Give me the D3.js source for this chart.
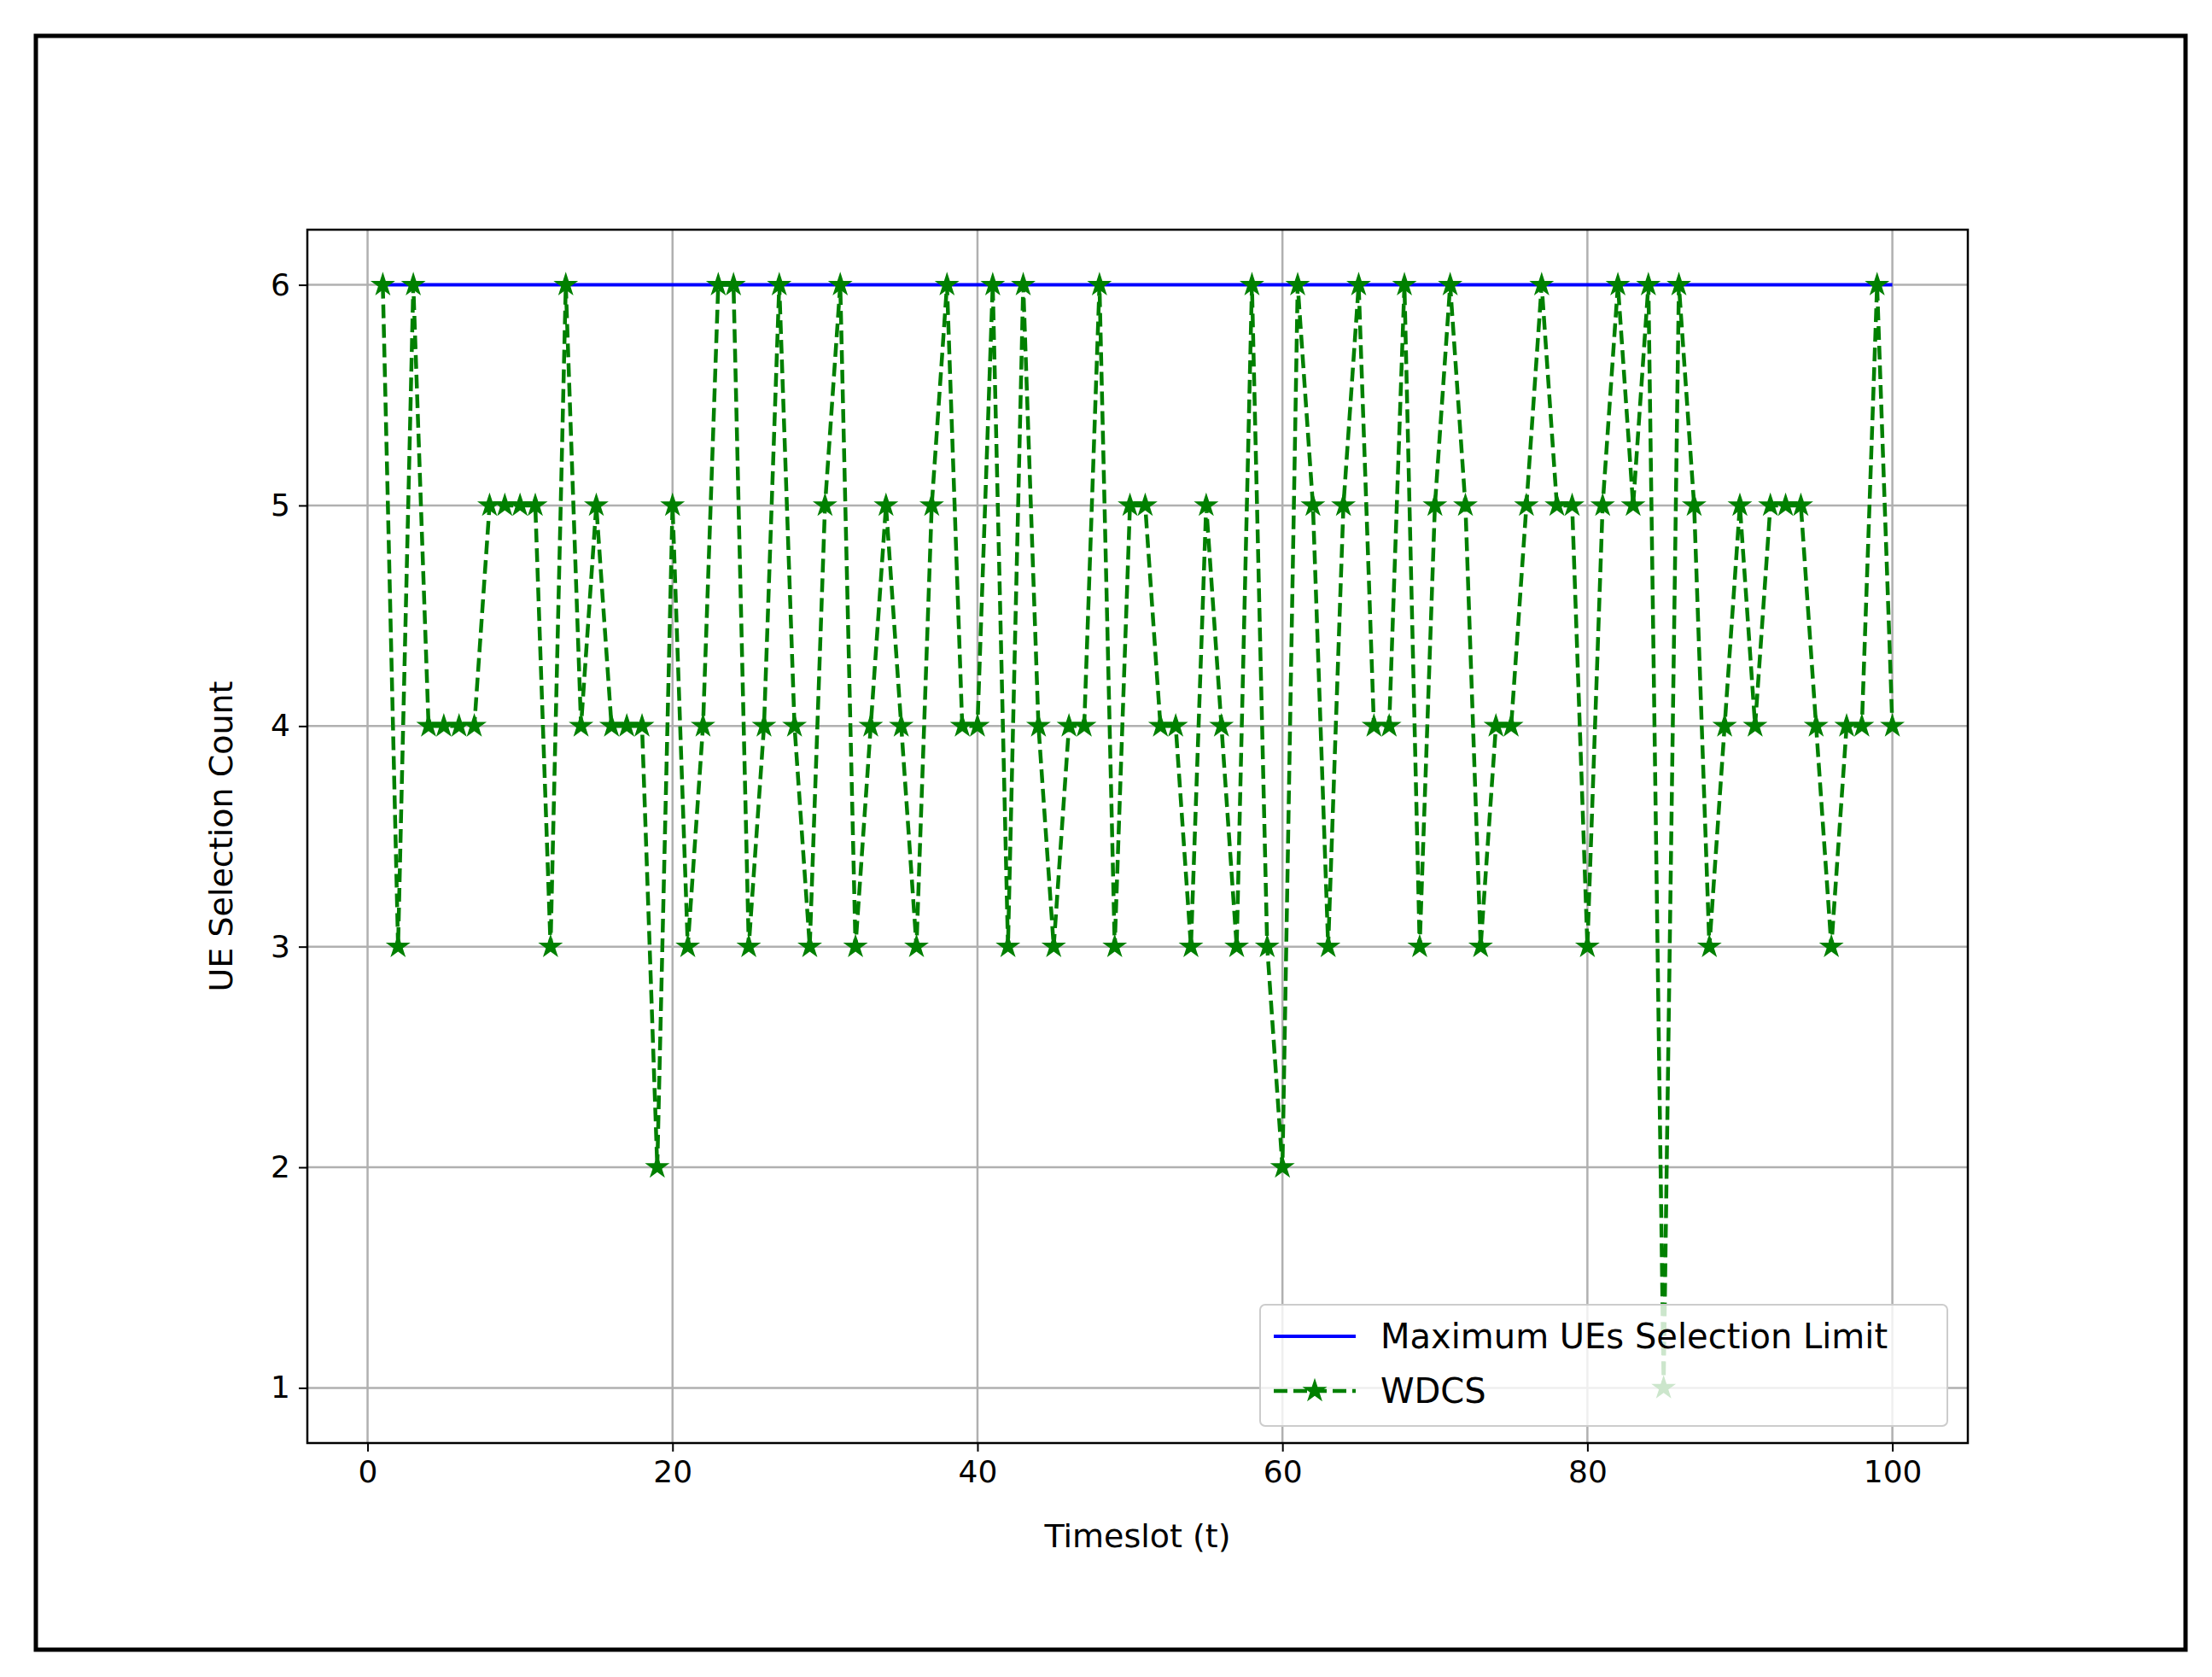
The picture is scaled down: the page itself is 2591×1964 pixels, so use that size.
<!DOCTYPE html>
<html><head><meta charset="utf-8">
<script src="https://cdn.jsdelivr.net/npm/d3@7/dist/d3.min.js"></script>
<style>body{margin:0;background:#fff}svg{display:block}text{font-family:"DejaVu Sans",sans-serif}</style>
</head><body><svg id="c" width="2591" height="1964"></svg>
<script>
const timeslots = d3.range(1, 101);
const wdcs = [6,3,6,4,4,4,4,5,5,5,5,3,6,4,5,4,4,4,2,5,
3,4,6,6,3,4,6,4,3,5,6,3,4,5,4,3,5,6,4,4,
6,3,6,4,3,4,4,6,3,5,5,4,4,3,5,4,3,6,3,2,
6,5,3,5,6,4,4,6,3,5,6,5,3,4,4,5,6,5,5,3,
5,6,5,6,1,6,5,3,4,5,4,5,5,5,4,3,4,4,6,4];
const maxLimit = 6;
const xTicks = [0,20,40,60,80,100];
const yTicks = [1,2,3,4,5,6];
const legendLabels = ["Maximum UEs Selection Limit","WDCS"];

const svg = d3.select("#c");
svg.append("rect").attr("x",42).attr("y",42).attr("width",2518).attr("height",1890)
  .attr("fill","none").attr("stroke","#000").attr("stroke-width",5);
const L=360,R=2305,T=269,B=1690;
const x=d3.scaleLinear().domain([-3.95,104.95]).range([L,R]);
const y=d3.scaleLinear().domain([0.75,6.25]).range([B,T]);
const g=svg.append("g");
// grid
g.selectAll(".gx").data(xTicks).join("line").attr("x1",d=>x(d)).attr("x2",d=>x(d)).attr("y1",T).attr("y2",B).attr("stroke","#b0b0b0").attr("stroke-width",2.5);
g.selectAll(".gy").data(yTicks).join("line").attr("y1",d=>y(d)).attr("y2",d=>y(d)).attr("x1",L).attr("x2",R).attr("stroke","#b0b0b0").attr("stroke-width",2.5);
// axes
const ax=svg.append("g").attr("transform",`translate(0,${B})`).call(d3.axisBottom(x).tickValues(xTicks).tickSize(10).tickPadding(10));
const ay=svg.append("g").attr("transform",`translate(${L},0)`).call(d3.axisLeft(y).tickValues(yTicks).tickFormat(d3.format("d")).tickSize(10).tickPadding(10));
[ax,ay].forEach(a=>{a.select(".domain").remove();a.selectAll("line").attr("stroke","#000").attr("stroke-width",2);a.selectAll("text").attr("font-size",36).attr("fill","#000").attr("font-family","DejaVu Sans");});
// blue line
svg.append("path").datum(timeslots).attr("d",d3.line().x(d=>x(d)).y(()=>y(maxLimit))).attr("stroke","#0000ff").attr("stroke-width",4).attr("fill","none");
// green dashed
const pts=timeslots.map((t,i)=>[t,wdcs[i]]);
svg.append("path").datum(pts).attr("d",d3.line().x(d=>x(d[0])).y(d=>y(d[1]))).attr("stroke","#008000").attr("stroke-width",4.5).attr("stroke-dasharray","16,7").attr("fill","none");
const star=d3.symbol().type(d3.symbolStar).size(260);
svg.selectAll(".st").data(pts).join("path").attr("d",star).attr("transform",d=>`translate(${x(d[0])},${y(d[1])})`).attr("fill","#008000");
// frame
svg.append("rect").attr("x",L).attr("y",T).attr("width",R-L).attr("height",B-T).attr("fill","none").attr("stroke","#000").attr("stroke-width",2.5);
// labels
svg.append("text").attr("x",(L+R)/2).attr("y",1812).attr("text-anchor","middle").attr("font-size",38).text("Timeslot (t)");
svg.append("text").attr("transform",`translate(272,${(T+B)/2}) rotate(-90)`).attr("text-anchor","middle").attr("font-size",38).text("UE Selection Count");
// legend
const lg=svg.append("g");
lg.append("rect").attr("x",1476).attr("y",1528).attr("width",805).attr("height",142).attr("rx",6).attr("fill","#fff").attr("fill-opacity",0.8).attr("stroke","#ccc").attr("stroke-width",2);
lg.append("line").attr("x1",1492).attr("x2",1588).attr("y1",1565).attr("y2",1565).attr("stroke","#0000ff").attr("stroke-width",4);
lg.append("line").attr("x1",1492).attr("x2",1588).attr("y1",1629).attr("y2",1629).attr("stroke","#008000").attr("stroke-width",4.5).attr("stroke-dasharray","16,7");
lg.append("path").attr("d",star).attr("transform","translate(1540,1629)").attr("fill","#008000");
lg.selectAll(".lt").data(legendLabels).join("text").attr("x",1617).attr("y",(d,i)=>1579+i*64).attr("font-size",40).text(d=>d);
</script></body></html>
